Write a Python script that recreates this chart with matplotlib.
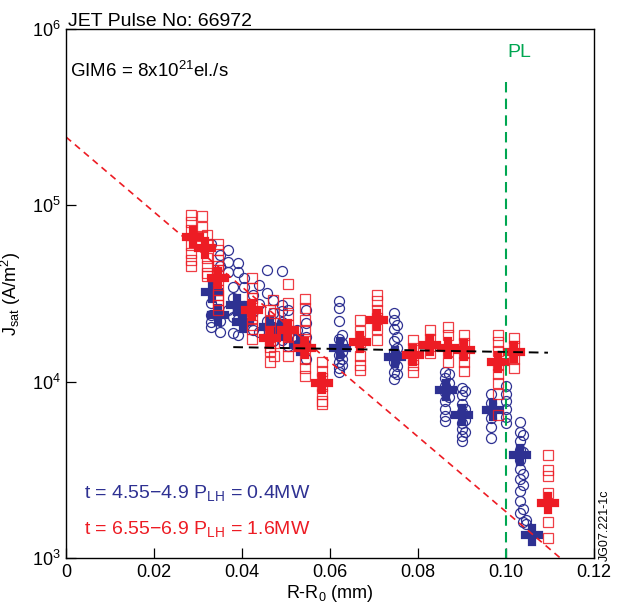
import matplotlib
matplotlib.use("Agg")
import matplotlib.pyplot as plt

plt.rcParams['font.family'] = ['Liberation Sans', 'DejaVu Sans']
plt.rcParams['mathtext.fontset'] = 'custom'
plt.rcParams['mathtext.rm'] = 'Liberation Sans'
plt.rcParams['mathtext.it'] = 'Liberation Sans'
plt.rcParams['mathtext.default'] = 'regular'

BLUE = '#2e3192'
RED = '#ed1c24'
GREEN = '#00a651'

# open circles, t = 4.55-4.9 s  (column x, values)
blue_cols = [0.0330, 0.0350, 0.0368, 0.0380, 0.0390, 0.0405, 0.0425, 0.0438,
             0.0457, 0.0470, 0.0490, 0.0505, 0.0525, 0.0545, 0.0620, 0.0628,
             0.0745, 0.0752, 0.0860, 0.0870, 0.0900, 0.0907, 0.0965, 0.1000,
             0.1032, 0.1038, 0.1045]
blue_vals = [
    [60500, 28000, 24000, 21700, 20500],
    [52300, 45000, 19200, 22000],
    [42000, 25500, 47600, 55800],
    [34500, 23200, 19000, 30000],
    [47000, 42000, 22800, 18500],
    [38700, 34500, 21500, 27000],
    [19600, 25000, 31000],
    [35400, 19200, 27500],
    [43000, 31700, 22000],
    [29100, 20500, 24500, 17000],
    [42500, 27200, 25000, 21700, 17200],
    [25500, 18400, 16000],
    [19600, 17500, 16200],
    [25500, 21500, 18000, 13500],
    [28500, 26000, 22000, 17500, 15500, 14200, 13000, 12000, 11300],
    [18500, 16500, 14800, 13500, 12500],
    [24500, 22500, 20000, 17000, 14800, 13000, 11300, 10300],
    [21000, 18000, 15500, 14000, 12200, 11000],
    [11300, 10500, 9500, 8700, 7800, 7000, 6400, 6000],
    [11000, 9800, 8200],
    [9200, 8400, 7500, 6700, 5800, 5400, 4900, 4600],
    [8900, 7000, 6100, 5200],
    [8500, 7600, 6900, 6200, 5500, 4800],
    [9500, 8500, 7800, 7000, 6300, 5800],
    [5900, 5200, 4600, 4100, 3600, 3200, 2800, 2400, 2100, 1800],
    [5000, 4000, 3000, 2600, 1900, 1600],
    [1650, 1550],
]

# open squares, t = 6.55-6.9 s
red_cols = [0.0285, 0.0310, 0.0320, 0.0345, 0.0423, 0.0470, 0.0464, 0.0505,
            0.0473, 0.0543, 0.0582, 0.0668, 0.0707, 0.0789, 0.0827, 0.0868,
            0.0905, 0.0982, 0.1018, 0.1095]
red_vals = [
    [88300, 80000, 72500, 59600, 53500, 49000, 45000],
    [87000, 75000, 67000],
    [68000, 60000, 50000, 45500, 41500, 39500],
    [60000, 55800, 49000, 45500, 43000, 37800, 33100, 31000, 29100, 27200, 25500],
    [38500, 34000, 30000, 27000, 25000, 23000, 21000, 20000, 17500],
    [29000],
    [25500, 22000, 19500, 17200, 15800, 15000, 13000],
    [36000, 28000, 24000, 21000, 18000, 16000, 14000],
    [24500, 16500, 14000],
    [29500, 26000, 22500, 19500, 17500, 15500, 13500, 12000, 10800],
    [13000, 11500, 10500, 9500, 8500, 7800, 7500],
    [22400, 19500, 16800, 14000, 12500, 11600],
    [31000, 28500, 25500, 23000, 20000, 17200],
    [17200, 15500, 13500, 12500, 11300],
    [19600, 17500, 16000, 14500],
    [20500, 18500, 15000, 13000],
    [18400, 16500, 14500, 13000, 11500],
    [18400, 16800, 15000, 12500, 11000, 9800, 8500, 6500],
    [17800, 16000, 13500, 12000],
    [3850, 3160, 2920, 2340, 1600, 1300],
]

# averaged values (filled crosses)
blue_mean_x = [0.0332, 0.0345, 0.0389, 0.0402, 0.0464, 0.0491, 0.0532, 0.0623,
               0.0748, 0.0864, 0.0900, 0.0970, 0.1032, 0.1059]
blue_mean_y = [32300, 23900, 27200, 21800, 20300, 19600, 16200, 15500,
               13800, 8970, 6470, 6900, 3840, 1350]
red_mean_x = [0.0289, 0.0316, 0.0345, 0.0423, 0.0464, 0.0505, 0.0543, 0.0582,
              0.0668, 0.0707, 0.0789, 0.0827, 0.0868, 0.0905, 0.0982, 0.1018,
              0.1095]
red_mean_y = [66200, 57300, 38700, 25500, 17700, 19600, 15500, 9840,
              16800, 22400, 14200, 16100, 15500, 15100, 12900, 14700, 2050]

# guide lines
decay_x = [0.0, 0.1123]
decay_y = [2.44e5, 1.0e3]
flat_x = [0.038, 0.1095]
flat_y = [15700, 14600]
pl_x = 0.10
pl_y = [5.0e5, 1.0e3]

fig = plt.figure(figsize=(6.17, 6.14), dpi=100)
ax = fig.add_axes([0.107, 0.0912, 0.856, 0.8616])

for x, ys in zip(blue_cols, blue_vals):
    ax.plot([x] * len(ys), ys, 'o', ms=7.2, mfc='none', mec=BLUE, mew=0.9)
ax.plot(blue_mean_x, blue_mean_y, 'P', ms=14, color=BLUE, mec=BLUE, mew=1.6)
for x, ys in zip(red_cols, red_vals):
    ax.plot([x] * len(ys), ys, 's', ms=7, mfc='none', mec=RED, mew=0.9, alpha=0.85)
ax.plot(red_mean_x, red_mean_y, 'P', ms=14, color=RED, mec=RED, mew=1.6)

ax.plot(decay_x, decay_y, color=RED, lw=1.2, dashes=(4, 3))
ax.plot(flat_x, flat_y, color='k', lw=1.4, dashes=(5, 3))
ax.plot([pl_x, pl_x], pl_y, color=GREEN, lw=1.5, dashes=(5, 3))

ax.set_yscale('log')
ax.set_xlim(0, 0.12)
ax.set_ylim(1e3, 1e6)
ax.set_xticks([0, 0.02, 0.04, 0.06, 0.08, 0.10, 0.12])
ax.set_xticklabels(['0', '0.02', '0.04', '0.06', '0.08', '0.10', '0.12'])
ax.set_yticks([1e3, 1e4, 1e5, 1e6])
ax.set_yticklabels([r'$10^3$', r'$10^4$', r'$10^5$', r'$10^6$'])
ax.minorticks_off()
ax.tick_params(direction='in', length=7, width=0.9, labelsize=13, pad=4)
for s in ax.spines.values():
    s.set_linewidth(1.0)

ax.set_xlabel(r'R-R$_0$ (mm)', fontsize=13, labelpad=2)
ax.set_ylabel(r'J$_{\rm sat}$ (A/m$^2$)', fontsize=13, labelpad=6)

fig.text(0.110, 0.965, 'JET Pulse No: 66972', fontsize=14, va='center')
ax.text(0.008, 0.92, r'GIM6 = 8x10$^{21}$el./s', transform=ax.transAxes,
        fontsize=13.5, va='center')
ax.text(0.835, 0.955, 'PL', transform=ax.transAxes, color=GREEN,
        fontsize=14, va='center')
ax.text(0.034, 0.122, r't = 4.55$-$4.9 P$_{\rm LH}$ = 0.4MW',
        transform=ax.transAxes, color=BLUE, fontsize=14, va='center')
ax.text(0.034, 0.055, r't = 6.55$-$6.9 P$_{\rm LH}$ = 1.6MW',
        transform=ax.transAxes, color=RED, fontsize=14, va='center')
fig.text(0.981, 0.145, 'JG07.221-1c', rotation=90, fontsize=9,
         va='center', ha='center')

fig.savefig('out.png', dpi=100)
